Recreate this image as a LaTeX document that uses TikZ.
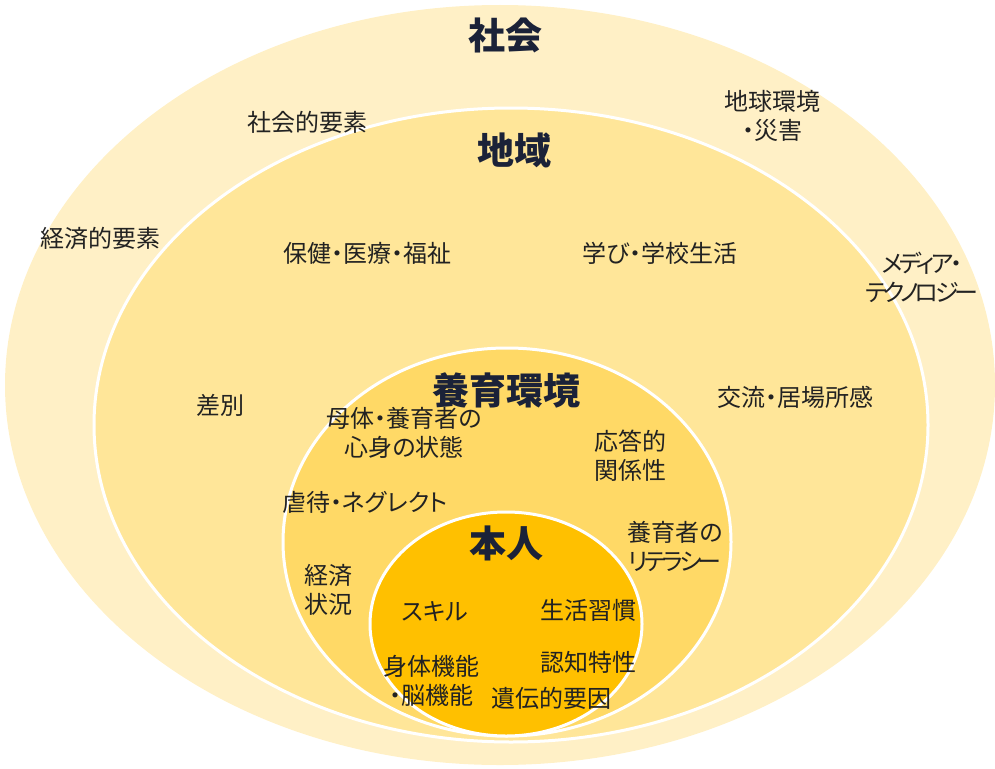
\documentclass[tikz,border=0pt]{standalone}
\usepackage{fontspec}
\newfontfamily\jp[RawFeature=+palt]{Noto Sans CJK JP}
\newfontfamily\jpk[RawFeature=+palt,LetterSpace=-15]{Noto Sans CJK JP}
\usetikzlibrary{shapes.geometric}
\definecolor{cShakai}{HTML}{FFF0C6}
\definecolor{cChiiki}{HTML}{FFE699}
\definecolor{cYoiku}{HTML}{FFD966}
\definecolor{cHonnin}{HTML}{FFC000}
\definecolor{cTitle}{HTML}{1B2238}
\definecolor{cText}{HTML}{222222}
\tikzset{
  ring/.style={ellipse, inner sep=0pt, line width=3pt},
  title/.style={font=\jp\fontsize{37pt}{42pt}\selectfont\bfseries, text=cTitle, inner sep=0pt},
  lbl/.style={font=\jp\fontsize{24pt}{29pt}\selectfont, text=cText, align=center, inner sep=0pt},
}
\begin{document}
\begin{tikzpicture}[x=1pt,y=-1pt]
\useasboundingbox (0,0) rectangle (995,768);
\node[ring, fill=cShakai, minimum width=990pt, minimum height=760pt] (shakai) at (500,385) {};
\node[ring, fill=cChiiki, draw=white, minimum width=834pt, minimum height=634pt] (chiiki) at (511,425) {};
\node[ring, fill=cYoiku, draw=white, minimum width=448pt, minimum height=388pt] (yoiku) at (507,542) {};
\node[ring, fill=cHonnin, draw=white, minimum width=272pt, minimum height=224pt] (honnin) at (506,624) {};

\node[title] (tShakai) at (505,35) {社会};
\node[title] (tChiiki) at (514,150) {地域};
\node[title] (tYoiku) at (506,390) {養育環境};
\node[title] (tHonnin) at (506,543) {本人};

\node[lbl] (l1) at (307,122) {社会的要素};
\node[lbl] (l2) at (772,116) {地球環境\\・災害};
\node[lbl] (l3) at (100,238) {経済的要素};
\node[lbl] (l4) at (367,253) {保健・医療・福祉};
\node[lbl] (l5) at (660,253) {学び・学校生活};
\node[lbl] (l6) at (922,277) {{\jpk メディア・}\\{\jpk テクノロジー}};
\node[lbl] (l7) at (220,405) {差別};
\node[lbl] (l8) at (795,397) {交流・居場所感};
\node[lbl] (l9) at (404,433) {母体・養育者の\\心身の状態};
\node[lbl] (l10) at (630,456) {応答的\\関係性};
\node[lbl] (l11) at (365,502) {虐待・ネグレクト};
\node[lbl] (l12) at (675,546) {養育者の\\{\jpk リテラシー}};
\node[lbl] (l13) at (328,590) {経済\\状況};
\node[lbl] (l14) at (435,612) {スキル};
\node[lbl] (l15) at (588,610) {生活習慣};
\node[lbl] (l16) at (431,681) {身体機能\\・脳機能};
\node[lbl] (l17) at (588,662) {認知特性};
\node[lbl] (l18) at (551,698) {遺伝的要因};
\end{tikzpicture}
\end{document}
